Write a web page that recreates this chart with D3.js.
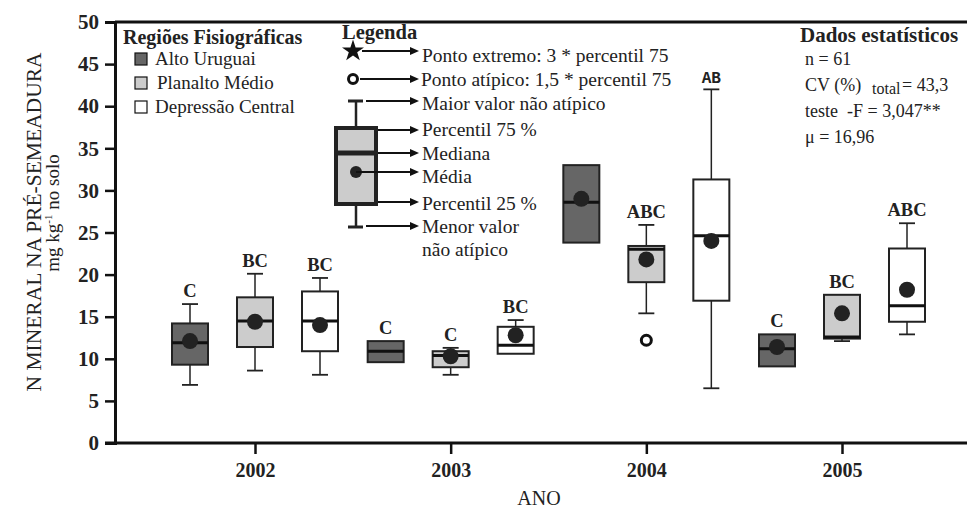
<!DOCTYPE html>
<html lang="pt">
<head>
<meta charset="UTF-8">
<title>N mineral na pré-semeadura</title>
<style>
  body { margin: 0; background: #fff; }
  svg { display: block; }
</style>
<script src="https://d3js.org/d3.v7.min.js"></script>
</head>
<body>
<svg width="967" height="512" font-family="Liberation Serif"></svg>
<script>
// dados (linhas = ano, colunas = região)
const years = ["2002", "2003", "2004", "2005"];
const regions = ["Alto Uruguai", "Planalto Médio", "Depressão Central"];
const regionFill = ["#666666", "#cccccc", "#ffffff"];
const q1 = [[9.3, 11.4, 10.9], [9.6, 9.0, 10.6], [23.8, 19.1, 16.9], [9.1, 12.4, 14.4]];
const q3 = [[14.2, 17.3, 18.0], [12.1, 10.9, 13.8], [33.0, 23.4, 31.3], [12.9, 17.6, 23.1]];
const medians = [[11.9, 14.5, 14.5], [10.9, 10.4, 11.6], [28.6, 23.0, 24.6], [11.2, 12.6, 16.3]];
const means = [[12.1, 14.4, 14.0], [null, 10.3, 12.8], [29.0, 21.8, 24.0], [11.4, 15.4, 18.2]];
const whiskLow = [[6.9, 8.6, 8.1], [null, 8.1, null], [null, 15.4, 6.5], [null, 12.1, 12.9]];
const whiskHigh = [[16.5, 20.1, 19.6], [null, 11.3, 14.6], [null, 25.9, 42.0], [null, null, 26.1]];
const outliers = [[[], [], []], [[], [], []], [[], [12.2], []], [[], [], []]];
const letters = [["C", "BC", "BC"], ["C", "C", "BC"], ["", "ABC", "AB"], ["C", "BC", "ABC"]];
const yTicks = [0, 5, 10, 15, 20, 25, 30, 35, 40, 45, 50];

const svg = d3.select("svg");
const W = 967;
const serif = "Liberation Serif";

const y = d3.scaleLinear().domain([0, 50]).range([443, 22]);
const x = d3.scalePoint().domain(years).range([255, 842]);
const xr = d3.scaleBand().domain(regions).range([-97.5, 97.5]);
const bw = 36;
const x0 = 115;

// moldura / eixos
svg.append("line").attr("x1", x0).attr("x2", W).attr("y1", y(50)).attr("y2", y(50))
  .attr("stroke", "#111").attr("stroke-width", 3);

const yAxis = svg.append("g").attr("transform", `translate(${x0},0)`)
  .call(d3.axisLeft(y).tickValues(yTicks).tickSize(10).tickPadding(6));
yAxis.attr("font-family", serif);
yAxis.select(".domain").attr("stroke-width", 3).attr("stroke", "#111");
yAxis.selectAll(".tick line").attr("stroke-width", 2.5).attr("stroke", "#111");
yAxis.selectAll(".tick text").attr("font-family", serif).attr("font-weight", "bold")
  .attr("font-size", 21).attr("fill", "#222");

const xAxis = svg.append("g").attr("transform", `translate(0,${y(0)})`)
  .call(d3.axisBottom(x).tickSize(11).tickPadding(9));
xAxis.attr("font-family", serif);
xAxis.select(".domain").attr("d", `M${x0 - 10},0H${W}`).attr("stroke-width", 3).attr("stroke", "#111");
xAxis.selectAll(".tick line").attr("stroke-width", 2.5).attr("stroke", "#111");
xAxis.selectAll(".tick text").attr("font-family", serif).attr("font-weight", "bold")
  .attr("font-size", 20).attr("fill", "#222");

svg.append("text").attr("x", 539).attr("y", 505).attr("text-anchor", "middle")
  .attr("font-size", 20).attr("fill", "#222").text("ANO");

svg.append("text").attr("transform", "translate(41,222) rotate(-90)").attr("text-anchor", "middle")
  .attr("font-size", 21.5).attr("fill", "#222").text("N MINERAL NA PRÉ-SEMEADURA");
const yl2 = svg.append("text").attr("transform", "translate(59,213) rotate(-90)").attr("text-anchor", "middle")
  .attr("font-size", 19).attr("fill", "#222");
yl2.append("tspan").text("mg kg");
yl2.append("tspan").attr("font-size", 11).attr("dy", -7).text("-1");
yl2.append("tspan").attr("dy", 7).text(" no solo");

// caixas
const boxes = [];
years.forEach((yr, i) => regions.forEach((rg, j) => {
  boxes.push({ yr, rg, j, q1: q1[i][j], q3: q3[i][j], med: medians[i][j], mean: means[i][j],
    lo: whiskLow[i][j], hi: whiskHigh[i][j], out: outliers[i][j], lab: letters[i][j] });
}));
const cx = d => x(d.yr) + xr(d.rg) + xr.bandwidth() / 2;

const g = svg.append("g");
boxes.forEach(d => {
  const c = cx(d);
  const gb = g.append("g");
  if (d.hi != null) {
    gb.append("line").attr("x1", c).attr("x2", c).attr("y1", y(d.q3)).attr("y2", y(d.hi)).attr("stroke", "#222").attr("stroke-width", 1.5);
    gb.append("line").attr("x1", c - 8).attr("x2", c + 8).attr("y1", y(d.hi)).attr("y2", y(d.hi)).attr("stroke", "#222").attr("stroke-width", 1.8);
  }
  if (d.lo != null) {
    gb.append("line").attr("x1", c).attr("x2", c).attr("y1", y(d.q1)).attr("y2", y(d.lo)).attr("stroke", "#222").attr("stroke-width", 1.5);
    gb.append("line").attr("x1", c - 8).attr("x2", c + 8).attr("y1", y(d.lo)).attr("y2", y(d.lo)).attr("stroke", "#222").attr("stroke-width", 1.8);
  }
  gb.append("rect").attr("x", c - bw / 2).attr("width", bw).attr("y", y(d.q3)).attr("height", y(d.q1) - y(d.q3))
    .attr("fill", regionFill[d.j]).attr("stroke", "#222").attr("stroke-width", 2);
  gb.append("line").attr("x1", c - bw / 2).attr("x2", c + bw / 2).attr("y1", y(d.med)).attr("y2", y(d.med))
    .attr("stroke", "#111").attr("stroke-width", 3);
  if (d.mean != null) gb.append("circle").attr("cx", c).attr("cy", y(d.mean)).attr("r", 8).attr("fill", "#222");
  d.out.forEach(o => gb.append("circle").attr("cx", c).attr("cy", y(o)).attr("r", 5)
    .attr("fill", "#fff").attr("stroke", "#111").attr("stroke-width", 3));
  if (d.lab) {
    const top = d.hi != null ? d.hi : d.q3;
    const mono = d.lab === "AB";
    gb.append("text").attr("x", c).attr("y", y(top) - (mono ? 6 : 7)).attr("text-anchor", "middle")
      .attr("font-family", mono ? "Liberation Mono" : serif)
      .attr("font-weight", "bold").attr("font-size", mono ? 16 : 18.5).attr("fill", "#222").text(d.lab);
  }
});

// legenda das regiões
const lg = svg.append("g");
lg.append("text").attr("x", 123).attr("y", 44).attr("font-weight", "bold").attr("font-size", 20).attr("fill", "#222").text("Regiões Fisiográficas");
regions.forEach((r, j) => {
  const yy = 59 + j * 24;
  lg.append("rect").attr("x", 135).attr("y", yy - 6).attr("width", 12).attr("height", 12)
    .attr("fill", regionFill[j]).attr("stroke", "#111").attr("stroke-width", 1.2);
  lg.append("text").attr("x", 155 + (j === 1 ? 2 : 0)).attr("y", yy + 6).attr("font-size", 19).attr("fill", "#222").text(r);
});

// legenda do boxplot
const lb = svg.append("g");
const arrow = (x1, yy) => {
  lb.append("line").attr("x1", x1).attr("x2", 416).attr("y1", yy).attr("y2", yy).attr("stroke", "#111").attr("stroke-width", 1.8);
  lb.append("path").attr("d", `M410,${yy - 4}L419,${yy}L410,${yy + 4}Z`).attr("fill", "#111");
};
lb.append("text").attr("x", 342).attr("y", 39).attr("font-weight", "bold").attr("font-size", 20.5).attr("fill", "#222").text("Legenda");
lb.append("path").attr("d", d3.symbol(d3.symbolStar, 150)()).attr("transform", "translate(353,51)").attr("fill", "#111");
arrow(362, 51);
lb.append("circle").attr("cx", 353).attr("cy", 79).attr("r", 4.5).attr("fill", "#fff").attr("stroke", "#111").attr("stroke-width", 3);
arrow(360, 79);
lb.append("line").attr("x1", 356).attr("x2", 356).attr("y1", 101).attr("y2", 227).attr("stroke", "#222").attr("stroke-width", 2.5);
lb.append("line").attr("x1", 348).attr("x2", 363).attr("y1", 101).attr("y2", 101).attr("stroke", "#222").attr("stroke-width", 3);
lb.append("line").attr("x1", 348).attr("x2", 363).attr("y1", 227).attr("y2", 227).attr("stroke", "#222").attr("stroke-width", 3);
lb.append("rect").attr("x", 336).attr("y", 128).attr("width", 40).attr("height", 76).attr("fill", "#cccccc").attr("stroke", "#222").attr("stroke-width", 4);
lb.append("line").attr("x1", 336).attr("x2", 376).attr("y1", 153).attr("y2", 153).attr("stroke", "#222").attr("stroke-width", 5);
lb.append("circle").attr("cx", 356).attr("cy", 172).attr("r", 6).attr("fill", "#222");
arrow(366, 101); arrow(378, 130); arrow(378, 153); arrow(356, 172); arrow(378, 202); arrow(366, 226);
const legTexts = [["Ponto extremo: 3 * percentil 75", 62], ["Ponto atípico: 1,5 * percentil 75", 86], ["Maior valor não atípico", 110],
  ["Percentil 75 %", 136], ["Mediana", 160], ["Média", 183], ["Percentil 25 %", 210], ["Menor valor", 233], ["não atípico", 256]];
legTexts.forEach(([t, yy], k) => lb.append("text").attr("x", k === 1 ? 421 : 422).attr("y", yy)
  .attr("font-size", 19.5).attr("fill", "#222").text(t));

// dados estatísticos
const st = svg.append("g").attr("fill", "#222").attr("font-size", 18);
st.append("text").attr("x", 800).attr("y", 42).attr("font-weight", "bold").attr("font-size", 21).text("Dados estatísticos");
st.append("text").attr("x", 805).attr("y", 65).text("n = 61");
st.append("text").attr("x", 805).attr("y", 91).text("CV (%)");
st.append("text").attr("x", 872).attr("y", 94).attr("font-size", 16).text("total");
st.append("text").attr("x", 902).attr("y", 91).text("= 43,3");
st.append("text").attr("x", 805).attr("y", 117).attr("xml:space", "preserve").text("teste  -F = 3,047**");
st.append("text").attr("x", 805).attr("y", 143).text("μ = 16,96");
</script>
</body>
</html>
